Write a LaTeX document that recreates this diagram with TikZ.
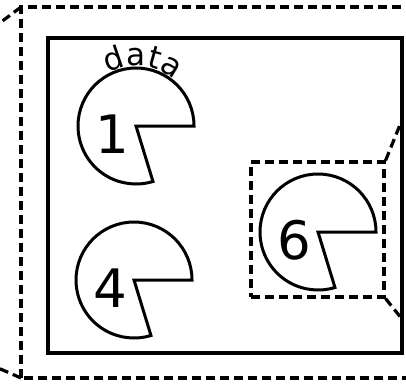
\documentclass[tikz,border=0pt]{standalone}
\usepackage{fontspec}
\setmainfont{DejaVu Sans}
\usetikzlibrary{decorations.text}

\begin{document}
\begin{tikzpicture}[x=1pt,y=1pt,
    frame/.style={dash pattern=on 9pt off 5pt,line width=3.2pt},
    pac/.style={line width=3pt,line join=miter},
    digit/.style={inner sep=0pt,font=\fontsize{53}{53}\selectfont}]
  \clip (0,0) rectangle (406,384);
  % the outer dashed frame and its zoom lines
  \coordinate (outtl) at (21,377);
  \coordinate (outbl) at (21,6);
  \coordinate (outzu) at (-20,346);
  \coordinate (outzl) at (-20,24);
  \draw[frame] (outbl) rectangle (440,377);
  \draw[frame] (outtl) -- (outzu);
  \draw[frame] (outbl) -- (outzl);
  % the solid box
  \draw[line width=3.6pt] (48,31) rectangle (402,346);
  % the pacmen
  \coordinate (p1) at (136,258);
  \coordinate (p4) at (134,104);
  \coordinate (p6) at (318,152);
  \foreach \p in {p1,p4,p6}
    \draw[pac] (\p) -- ++(0:58) arc[start angle=0,end angle=287,radius=58] -- cycle;
  \node[digit] (n1) at ([shift={(-24,-8)}]p1) {1};
  \node[digit] (n4) at ([shift={(-24,-8)}]p4) {4};
  \node[digit] (n6) at ([shift={(-24,-8)}]p6) {6};
  % the label round the first one
  \path[decorate,decoration={text along path,text align=center,raise=2pt,
      text={|\fontsize{31}{31}\selectfont|data}}]
    ([shift={(174:58)}]p1) arc[start angle=174,end angle=-6,radius=58];
  % the zoomed box and its lines
  \node[frame,draw,minimum width=133pt,minimum height=135pt] (zoombox) at (317.5,154.5) {};
  \coordinate (zoomu) at (402,264);
  \coordinate (zooml) at (402,65);
  \draw[frame] (zoombox.north east) -- (zoomu);
  \draw[frame] (zoombox.south east) -- (zooml);
\end{tikzpicture}
\end{document}
